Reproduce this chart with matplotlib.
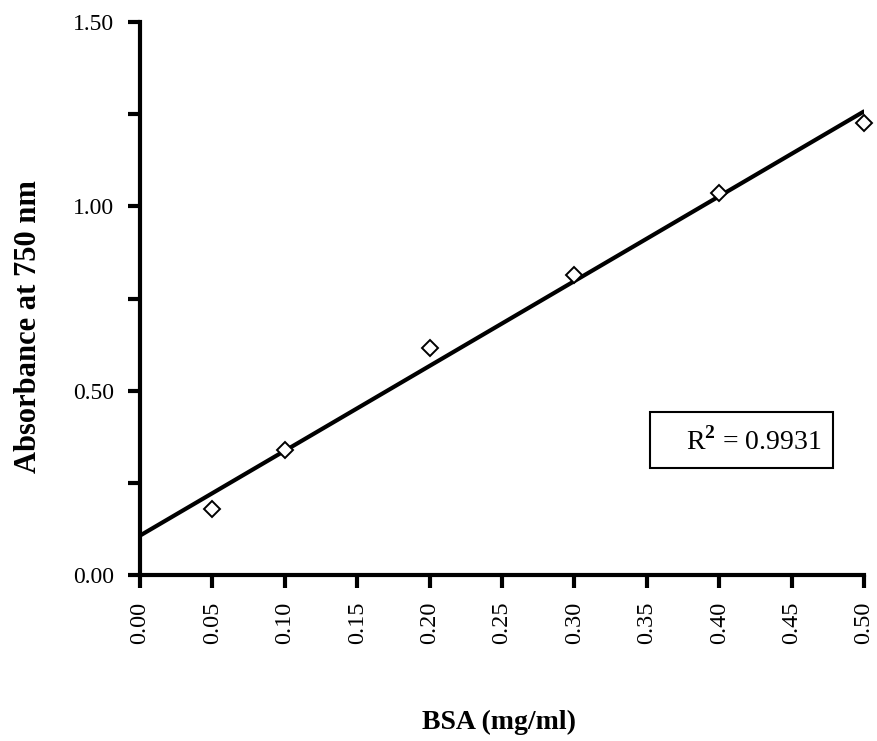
import numpy as np
import matplotlib.pyplot as plt
from matplotlib.patches import Rectangle

# BSA standard curve
bsa = [0.05, 0.10, 0.20, 0.30, 0.40, 0.50]
absorbance = [0.179, 0.339, 0.616, 0.814, 1.036, 1.226]
x_ticks = [0.00, 0.05, 0.10, 0.15, 0.20, 0.25, 0.30, 0.35, 0.40, 0.45, 0.50]
y_ticks = [0.00, 0.25, 0.50, 0.75, 1.00, 1.25, 1.50]
r2_text = "0.9931"

plt.rcParams['font.family'] = ['Liberation Serif', 'DejaVu Serif']
plt.rcParams['mathtext.fontset'] = 'custom'
plt.rcParams['mathtext.rm'] = 'Liberation Serif'
plt.rcParams['mathtext.bf'] = 'Liberation Serif:bold'

fig = plt.figure(figsize=(8.78, 7.41), dpi=100)
ax = fig.add_axes([0.1595, 0.224, 0.8245, 0.746])

# linear fit through the standards
slope, intercept = np.polyfit(bsa, absorbance, 1)
xf = np.array([0.0, 0.5])
ax.plot(xf, slope * xf + intercept, color='black', lw=3, solid_capstyle='round', zorder=2)
ax.plot(bsa, absorbance, linestyle='none', marker='D', markersize=8.5,
        markerfacecolor='white', markeredgecolor='black', markeredgewidth=1.4, zorder=3,
        clip_on=False)

ax.set_xlim(0, 0.5)
ax.set_ylim(0, 1.5)
ax.set_xticks(x_ticks)
ax.set_xticklabels([f"{v:.2f}" for v in x_ticks], rotation=90, fontsize=17.5)
ax.set_yticks(y_ticks)
ax.set_yticklabels([f"{v:.2f}" if i % 2 == 0 else "" for i, v in enumerate(y_ticks)], fontsize=17)

for s in ['top', 'right']:
    ax.spines[s].set_visible(False)
for s in ['left', 'bottom']:
    ax.spines[s].set_linewidth(3)
ax.tick_params(direction='out', length=9, width=3, pad=10)

ax.set_xlabel('BSA (mg/ml)', fontsize=20, fontweight='bold', va='center', ha='center')
ax.xaxis.set_label_coords(0.496, -0.266)
ax.set_ylabel('Absorbance at 750 nm', fontsize=22, fontweight='bold', va='center', ha='center')
ax.yaxis.set_label_coords(-0.1547, 0.450)

# R^2 box
ax.add_patch(Rectangle((0.3522, 0.290), 0.1264, 0.152, transform=ax.transData,
                       facecolor='white', edgecolor='black', linewidth=1.5, zorder=4))
ax.text(0.471, 0.339, r"R$^{\mathbf{2}}$ = " + r2_text, fontsize=20, ha='right',
        va='baseline', zorder=5)

fig.savefig('out.png', dpi=100)
